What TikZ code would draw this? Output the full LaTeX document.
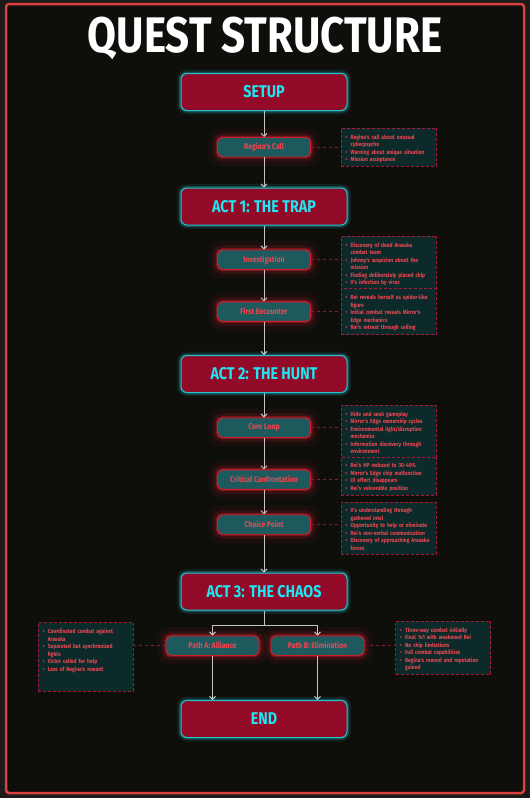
\documentclass[tikz,border=0pt]{standalone}
\usepackage{fontspec}
\setmainfont{Fira Sans}
\newfontfamily\cyber[FakeStretch=0.84]{Fira Sans}
\usepackage{tikz}
\usetikzlibrary{
    arrows.meta,
    positioning
}

\definecolor{outerbg}{HTML}{1B1B19}
\definecolor{innerbg}{HTML}{0E0E0B}
\definecolor{framered}{HTML}{D9423F}
\definecolor{actfill}{HTML}{920A28}
\definecolor{actedge}{HTML}{22C4CC}
\definecolor{acttext}{HTML}{1EE6F2}
\definecolor{beatfill}{HTML}{1D5A5D}
\definecolor{beatedge}{HTML}{D41E2E}
\definecolor{beattext}{HTML}{EE4652}
\definecolor{notesfill}{HTML}{0D2A2A}
\definecolor{notesedge}{HTML}{A8183A}
\definecolor{flowgrey}{HTML}{C4C4C4}
\definecolor{linkred}{HTML}{8C1A34}

\hyphenpenalty=10000
\newcommand{\bullitem}{\par\noindent\hangindent=5pt\hangafter=1\makebox[5pt][l]{\textbullet}}

\begin{document}
\begin{tikzpicture}[
    x=1pt, y=1pt,
    act/.style={
        draw=actedge,
        fill=actfill,
        line width=1pt,
        rounded corners=6pt,
        minimum width=166pt,
        minimum height=37pt,
        text=acttext,
        font=\cyber\fontsize{17}{17}\selectfont\bfseries,
        preaction={draw=actedge, line width=8pt, opacity=0.10},
        preaction={draw=actedge, line width=4pt, opacity=0.28}
    },
    beat/.style={
        draw=beatedge,
        fill=beatfill,
        line width=0.9pt,
        rounded corners=5pt,
        minimum width=93pt,
        minimum height=19.5pt,
        inner sep=1pt,
        text=beattext,
        font=\cyber\fontsize{8.2}{8.2}\selectfont\bfseries,
        preaction={draw=beatedge, line width=18pt, opacity=0.07},
        preaction={draw=beatedge, line width=9pt, opacity=0.15},
        preaction={draw=beatedge, line width=3.5pt, opacity=0.4}
    },
    notes/.style={
        draw=notesedge,
        fill=notesfill,
        densely dashed,
        line width=0.5pt,
        text width=86pt,
        inner xsep=4.5pt,
        inner ysep=3.5pt,
        align=left,
        text=beattext,
        font=\cyber\fontsize{5.9}{7.5}\selectfont\bfseries
    },
    flow/.style={
        draw=flowgrey,
        line width=0.9pt,
        -{Straight Barb[length=3pt, width=6pt]}
    },
    link/.style={
        draw=linkred,
        dashed,
        line width=0.7pt
    }
]

\useasboundingbox (0,0) rectangle (530,-798);
\fill[outerbg] (0,0) rectangle (530,-798);
\draw[framered, fill=innerbg, line width=2.5pt, rounded corners=3pt]
(6,-4) rectangle (524,-793);

\node[text=white, font=\cyber\fontsize{50}{50}\selectfont\bfseries] (title)
at (265,-38) {QUEST STRUCTURE};

% acts
\node[act] (setup) at (264,-92) {SETUP};
\node[act] (act1) at (264,-206.5) {ACT 1: THE TRAP};
\node[act] (act2) at (264,-374) {ACT 2: THE HUNT};
\node[act] (act3) at (264,-591.5) {ACT 3: THE CHAOS};
\node[act] (end) at (264,-719) {END};

% beats
\node[beat, below=26pt of setup] (call) {Regina's Call};
\node[beat, below=24pt of act1] (invest) {Investigation};
\node[beat, below=31.5pt of invest] (first) {First Encounter};
\node[beat, below=24.5pt of act2] (core) {Core Loop};
\node[beat, below=31.5pt of core] (crit) {Critical Confrontation};
\node[beat, below=24.5pt of crit] (choice) {Choice Point};
\node[beat, below=25pt of act3, xshift=-51.5pt] (pathA) {Path A: Alliance};
\node[beat, below=25pt of act3, xshift=53.5pt] (pathB) {Path B: Elimination};

% side notes
\node[notes, right=30pt of call] (callnotes) {%
\bullitem Regina's call about unusual\newline cyberpsycho
\bullitem Warning about unique situation
\bullitem Mission acceptance\par};
\node[notes, right=30pt of invest, yshift=-3pt] (investnotes) {%
\bullitem Discovery of dead Arasaka\newline combat team
\bullitem Johnny's suspicion about the\newline mission
\bullitem Finding deliberately placed chip
\bullitem V's infection by virus\par};
\node[notes, right=30pt of first] (firstnotes) {%
\bullitem Rei reveals herself as spider-like\newline figure
\bullitem Initial combat reveals Mirror's\newline Edge mechanics
\bullitem Rei's retreat through ceiling\par};
\node[notes, right=30pt of core, yshift=-3.5pt] (corenotes) {%
\bullitem Hide and seek gameplay
\bullitem Mirror's Edge ownership cycles
\bullitem Environmental light/disruption\newline mechanics
\bullitem Information discovery through\newline environment\par};
\node[notes, right=30pt of crit, yshift=3.5pt] (critnotes) {%
\bullitem Rei's HP reduced to 30-40\%
\bullitem Mirror's Edge chip malfunction
\bullitem UI effect disappears
\bullitem Rei's vulnerable position\par};
\node[notes, right=30pt of choice, yshift=-3.5pt] (choicenotes) {%
\bullitem V's understanding through\newline gathered intel
\bullitem Opportunity to help or eliminate
\bullitem Rei's non-verbal communication
\bullitem Discovery of approaching Arasaka\newline forces\par};
\node[notes, left=32pt of pathA, yshift=-11pt] (pathAnotes) {%
\bullitem Coordinated combat against\newline Arasaka
\bullitem Separated but synchronized\newline fights
\bullitem Victor called for help
\bullitem Loss of Regina's reward\par
\vspace*{15pt}};
\node[notes, right=31pt of pathB, yshift=-2pt] (pathBnotes) {%
\bullitem Three-way combat initially
\bullitem Final 1v1 with weakened Rei
\bullitem No chip limitations
\bullitem Full combat capabilities
\bullitem Regina's reward and reputation\newline gained\par};

% flow
\draw[flow] (setup) -- (call);
\draw[flow] (call) -- (act1);
\draw[flow] (act1) -- (invest);
\draw[flow] (invest) -- (first);
\draw[flow] (first) -- (act2);
\draw[flow] (act2) -- (core);
\draw[flow] (core) -- (crit);
\draw[flow] (crit) -- (choice);
\draw[flow] (choice) -- (act3);
\draw[draw=flowgrey, line width=0.9pt] (act3.south) -- ++(0,-15) coordinate (split);
\draw[flow] (split) -| (pathA.north);
\draw[flow] (split) -| (pathB.north);
\draw[flow] (pathA.south) -- (pathA.south |- end.north);
\draw[flow] (pathB.south) -- (pathB.south |- end.north);

% dashed links to notes
\draw[link] (call.east) -- (call.east -| callnotes.west);
\draw[link] (invest.east) -- (invest.east -| investnotes.west);
\draw[link] (first.east) -- (first.east -| firstnotes.west);
\draw[link] (core.east) -- (core.east -| corenotes.west);
\draw[link] (crit.east) -- (crit.east -| critnotes.west);
\draw[link] (choice.east) -- (choice.east -| choicenotes.west);
\draw[link] (pathA.west) -- (pathA.west -| pathAnotes.east);
\draw[link] (pathB.east) -- (pathB.east -| pathBnotes.west);

\end{tikzpicture}
\end{document}
